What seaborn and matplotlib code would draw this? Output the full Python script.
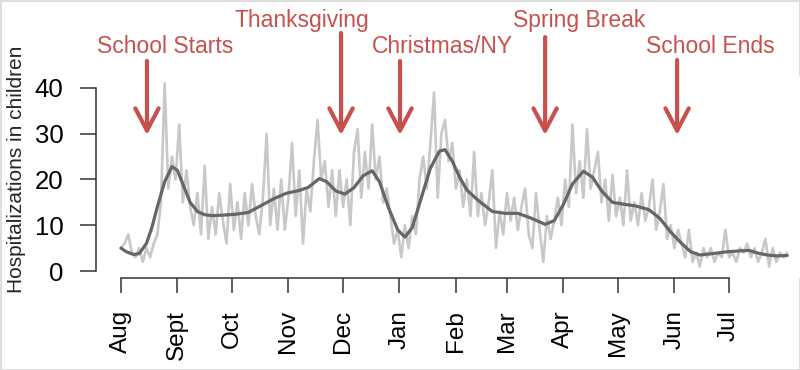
import matplotlib
matplotlib.use('Agg')
import matplotlib.pyplot as plt
import matplotlib.dates as mdates
import seaborn as sns
import numpy as np
import pandas as pd

# daily hospitalizations, read every 2nd day starting Aug 1
noisy = [5, 6, 8, 4, 3, 5, 2, 5, 3, 6,
         8, 15, 41, 18, 25, 20, 32, 15, 22, 14,
         10, 17, 8, 23, 7, 14, 8, 17, 11, 6,
         19, 9, 15, 7, 17, 10, 19, 12, 8, 16,
         30, 10, 18, 9, 20, 9, 16, 28, 12, 22,
         6, 18, 13, 24, 33, 20, 24, 14, 22, 12,
         22, 14, 20, 10, 26, 31, 16, 26, 18, 32,
         20, 25, 15, 18, 12, 6, 9, 3, 10, 5,
         12, 8, 20, 25, 18, 28, 39, 16, 30, 33,
         24, 28, 18, 22, 14, 20, 12, 26, 12, 17,
         10, 15, 22, 5, 13, 8, 17, 11, 16, 9,
         14, 18, 8, 5, 17, 9, 2, 12, 7, 11,
         16, 10, 20, 14, 32, 17, 24, 16, 31, 18,
         22, 26, 15, 20, 11, 21, 12, 16, 10, 22,
         11, 15, 10, 17, 11, 14, 20, 9, 13, 19,
         7, 10, 5, 9, 6, 3, 9, 2, 4, 1,
         5, 3, 5, 2, 4, 3, 9, 3, 4, 2,
         5, 4, 6, 3, 5, 2, 4, 7, 1, 5,
         2, 4, 3, 4]

# smoothed trend (day since Aug 1, value)
smooth_day = [0, 3, 7, 10, 14, 17, 20, 24, 28, 31, 35, 38, 42, 46, 50, 56, 63, 70,
              77, 84, 91, 98, 103, 109, 113, 118, 123, 128, 133, 138, 142, 147,
              152, 156, 160, 165, 170, 175, 178, 182, 186, 190, 196, 204, 211,
              218, 225, 233, 238, 243, 248, 254, 259, 264, 270, 276, 283, 290,
              296, 302, 308, 313, 318, 325, 333, 340, 345, 350, 355, 360, 366]
smooth_val = [5.0, 4.2, 3.6, 3.8, 6.0, 9.5, 14.0, 19.5, 22.8, 22.0, 18.0, 15.0,
              13.0, 12.3, 12.1, 12.2, 12.4, 12.8, 14.3, 15.8, 17.0, 17.6, 18.3,
              20.2, 19.5, 17.5, 16.8, 18.2, 20.8, 21.9, 19.5, 13.8, 9.0, 7.4,
              9.5, 16.0, 22.5, 26.2, 26.5, 24.0, 20.5, 17.7, 15.5, 13.0, 12.6,
              12.6, 11.6, 10.2, 11.0, 14.5, 19.0, 21.8, 20.5, 17.5, 15.0, 14.6,
              14.2, 13.4, 11.5, 8.5, 6.0, 4.2, 3.5, 3.8, 4.2, 4.4, 4.5, 3.9,
              3.5, 3.3, 3.4]

month_labels = ['Aug', 'Sept', 'Oct', 'Nov', 'Dec', 'Jan', 'Feb', 'Mar',
                'Apr', 'May', 'Jun', 'Jul']

events = ['School Starts', 'Thanksgiving', 'Christmas/NY', 'Spring Break', 'School Ends']
event_day = [14.3, 120.9, 153.3, 233, 305.5]
event_label_day = [24.2, 99.5, 176.4, 251.6, 323.6]
event_label_y = [47.6, 53.3, 47.6, 53.3, 47.6]
event_top = [45.9, 52.0, 45.9, 51.1, 46.1]

start = pd.Timestamp('2014-08-01')
df_noisy = pd.DataFrame({'date': pd.date_range(start, periods=len(noisy), freq='2D'),
                         'count': noisy})
df_smooth = pd.DataFrame({'date': start + pd.to_timedelta(smooth_day, unit='D'),
                          'count': smooth_val})

sns.set_style('ticks')
plt.rcParams['font.family'] = ['Liberation Sans', 'DejaVu Sans']

red = '#c9514d'
axis_col = '#333333'

fig = plt.figure(figsize=(8, 3.7), dpi=100)
fig.patch.set_edgecolor('#dddddd')
fig.patch.set_linewidth(2)
ax = fig.add_axes([0.12, 0.2486, 0.88, 0.546])

sns.lineplot(data=df_noisy, x='date', y='count', color='#c8c8c8', lw=1.9, ax=ax)
sns.lineplot(data=df_smooth, x='date', y='count', color='#666666', lw=2.3, ax=ax)

ax.set_xlim(start - pd.Timedelta(days=13.7), start + pd.Timedelta(days=373))
ax.set_ylim(-1.53, 42.6)

month_ticks = pd.date_range(start, periods=12, freq='MS')
ax.set_xticks(month_ticks)
ax.set_xticklabels(month_labels, rotation=90, fontsize=17.5)
ax.set_yticks([0, 10, 20, 30, 40])
ax.tick_params(axis='y', labelsize=18.5, length=11.5, width=1.1, pad=12, colors=axis_col)
ax.tick_params(axis='x', length=11, width=1.1, pad=12, colors=axis_col)
for lab in ax.get_xticklabels() + ax.get_yticklabels():
    lab.set_color('black')

for side in ['top', 'right']:
    ax.spines[side].set_visible(False)
ax.spines['left'].set_bounds(0, 40)
ax.spines['bottom'].set_bounds(mdates.date2num(month_ticks[0]), mdates.date2num(month_ticks[-1]))
for side in ['left', 'bottom']:
    ax.spines[side].set_color(axis_col)
    ax.spines[side].set_linewidth(1.1)

ax.set_xlabel('')
ax.set_ylabel('Hospitalizations in children', fontsize=15)
ax.yaxis.set_label_coords(-0.1, 0.54)

for name, d, ld, ly, top in zip(events, event_day, event_label_day, event_label_y, event_top):
    x = start + pd.Timedelta(days=d)
    ax.annotate('', xy=(x, 29.7), xytext=(x, top),
                arrowprops=dict(arrowstyle='->,head_length=0.8,head_width=0.42',
                                color=red, lw=3, mutation_scale=20,
                                shrinkA=0, shrinkB=0))
    ax.text(start + pd.Timedelta(days=ld), ly, name, color=red, fontsize=16.5,
            ha='center', va='baseline')

fig.savefig('out.png', dpi=100)
